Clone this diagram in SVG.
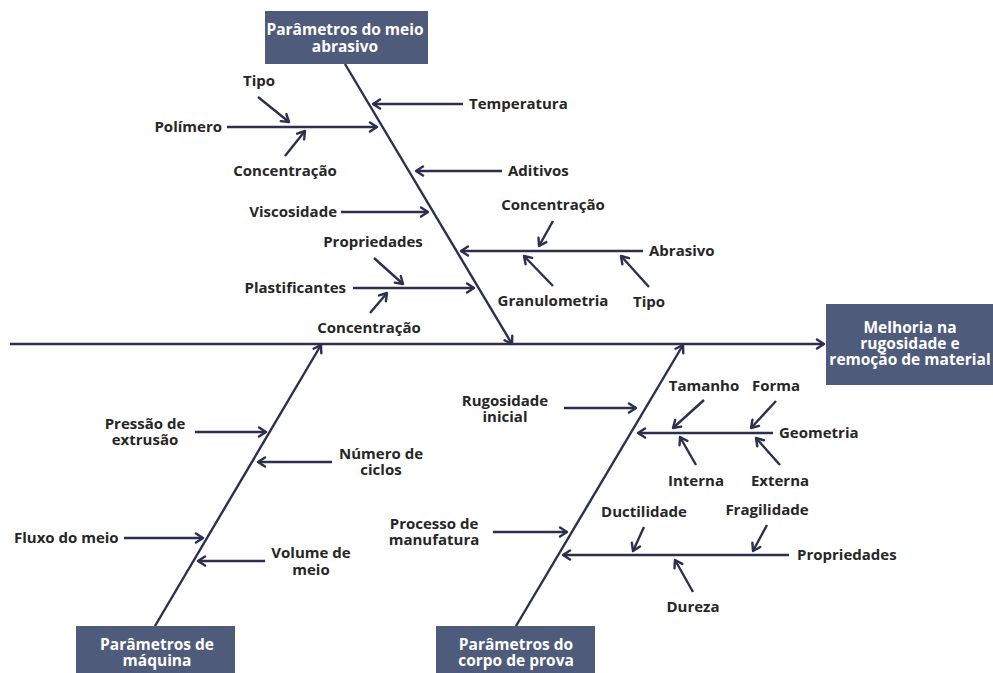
<svg xmlns="http://www.w3.org/2000/svg" width="993" height="673" viewBox="0 0 993 673">
<defs>
<marker id="ah" markerUnits="userSpaceOnUse" markerWidth="12" markerHeight="12" refX="9" refY="6" orient="auto">
<path d="M2,1.5 L9,6 L2,10.5" fill="none" stroke="#2d2f4e" stroke-width="2.4" stroke-linecap="round" stroke-linejoin="round"/>
</marker>
<style>
.l{stroke:#2d2f4e;stroke-width:2.4;fill:none;marker-end:url(#ah)}
.t{font-family:"Open Sans","Noto Sans",sans-serif;font-weight:bold;font-size:15px;fill:#262626}
.c{text-anchor:middle}
.b{fill:#4f5b7a}
.w{font-family:"Open Sans","Noto Sans",sans-serif;font-weight:bold;font-size:15.5px;fill:#ffffff;text-anchor:middle}
</style>
</defs>
<rect width="993" height="673" fill="#ffffff"/>
<g id="connectors">
<line class="l" x1="10" y1="344" x2="824" y2="344"/>
<line class="l" x1="345" y1="64" x2="512" y2="344"/>
<line class="l" x1="155" y1="626" x2="321" y2="345"/>
<line class="l" x1="516" y1="626" x2="683" y2="345"/>
<line class="l" x1="463" y1="104" x2="373" y2="104"/>
<line class="l" x1="227" y1="127" x2="377" y2="127"/>
<line class="l" x1="258" y1="97" x2="289" y2="122"/>
<line class="l" x1="285" y1="156" x2="305" y2="131"/>
<line class="l" x1="502" y1="171" x2="416" y2="171"/>
<line class="l" x1="341" y1="212" x2="428" y2="212"/>
<line class="l" x1="643" y1="251" x2="461" y2="251"/>
<line class="l" x1="553" y1="221" x2="539" y2="246"/>
<line class="l" x1="553" y1="286" x2="524" y2="256"/>
<line class="l" x1="649" y1="287" x2="621" y2="256"/>
<line class="l" x1="353" y1="288" x2="474" y2="288"/>
<line class="l" x1="374" y1="258" x2="403" y2="284"/>
<line class="l" x1="370" y1="313" x2="387" y2="293"/>
<line class="l" x1="195" y1="432" x2="266" y2="432"/>
<line class="l" x1="332" y1="462" x2="258" y2="462"/>
<line class="l" x1="124" y1="538" x2="203" y2="538"/>
<line class="l" x1="265" y1="561" x2="198" y2="561"/>
<line class="l" x1="564" y1="408" x2="636" y2="408"/>
<line class="l" x1="773" y1="433" x2="638" y2="433"/>
<line class="l" x1="704" y1="400" x2="673" y2="428"/>
<line class="l" x1="776" y1="401" x2="751" y2="428"/>
<line class="l" x1="696" y1="465" x2="680" y2="437"/>
<line class="l" x1="780" y1="465" x2="756" y2="438"/>
<line class="l" x1="493" y1="532" x2="567" y2="532"/>
<line class="l" x1="789" y1="555" x2="563" y2="555"/>
<line class="l" x1="644" y1="527" x2="633" y2="551"/>
<line class="l" x1="767" y1="525" x2="753" y2="551"/>
<line class="l" x1="693" y1="592" x2="675" y2="560"/>
</g>
<g id="box-meio-abrasivo">
<rect class="b" x="265" y="11" width="163" height="53"/>
<text class="w" x="345" y="35">Parâmetros do meio<tspan x="345" dy="17">abrasivo</tspan></text>
</g>
<g id="box-efeito">
<rect class="b" x="826" y="304" width="167" height="81"/>
<text class="w" x="910" y="333">Melhoria na<tspan x="910" dy="16">rugosidade e</tspan><tspan x="910" dy="16">remoção de material</tspan></text>
</g>
<g id="box-maquina">
<rect class="b" x="76" y="626" width="159" height="47"/>
<text class="w" x="157" y="650">Parâmetros de<tspan x="157" dy="16">máquina</tspan></text>
</g>
<g id="box-corpo-prova">
<rect class="b" x="436" y="626" width="159" height="47"/>
<text class="w" x="516" y="650">Parâmetros do<tspan x="516" dy="16">corpo de prova</tspan></text>
</g>
<g id="labels">
<text class="t" x="469" y="109">Temperatura</text>
<text class="t" x="222" y="132" text-anchor="end">Polímero</text>
<text class="t c" x="259" y="86">Tipo</text>
<text class="t c" x="285" y="176">Concentração</text>
<text class="t" x="508" y="176">Aditivos</text>
<text class="t" x="337" y="217" text-anchor="end">Viscosidade</text>
<text class="t" x="649" y="256">Abrasivo</text>
<text class="t c" x="553" y="210">Concentração</text>
<text class="t c" x="553" y="306">Granulometria</text>
<text class="t c" x="649" y="307">Tipo</text>
<text class="t" x="346" y="293" text-anchor="end">Plastificantes</text>
<text class="t c" x="373" y="247">Propriedades</text>
<text class="t c" x="369" y="333">Concentração</text>
<text class="t c" x="145" y="429">Pressão de<tspan x="145" dy="16">extrusão</tspan></text>
<text class="t c" x="381" y="459">Número de<tspan x="381" dy="16">ciclos</tspan></text>
<text class="t" x="14" y="543">Fluxo do meio</text>
<text class="t c" x="311" y="558">Volume de<tspan x="311" dy="17">meio</tspan></text>
<text class="t c" x="505" y="406">Rugosidade<tspan x="505" dy="16">inicial</tspan></text>
<text class="t" x="779" y="438">Geometria</text>
<text class="t c" x="704" y="391">Tamanho</text>
<text class="t c" x="776" y="391">Forma</text>
<text class="t c" x="696" y="486">Interna</text>
<text class="t c" x="780" y="486">Externa</text>
<text class="t c" x="434" y="529">Processo de<tspan x="434" dy="16">manufatura</tspan></text>
<text class="t" x="797" y="560">Propriedades</text>
<text class="t c" x="644" y="517">Ductilidade</text>
<text class="t c" x="767" y="515">Fragilidade</text>
<text class="t c" x="693" y="612">Dureza</text>
</g>
</svg>
